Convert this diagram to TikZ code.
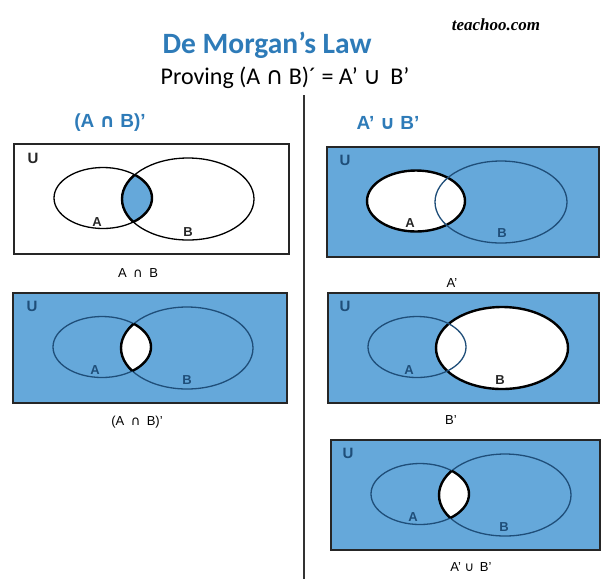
\documentclass[tikz,border=0pt]{standalone}
\usepackage{fontspec}
\setmainfont{Liberation Sans}
\newfontfamily\calib{Carlito}
\newfontfamily\symf{DejaVu Sans}
\newfontfamily\logof{Liberation Serif}
\usetikzlibrary{positioning}
\definecolor{vennblue}{HTML}{65A8DA}
\definecolor{titleblue}{HTML}{2E7BB8}
\definecolor{ringblue}{HTML}{1F4E79}

\begin{document}
\begin{tikzpicture}[x=1pt, y=-1pt,
    frame/.style={draw=black!85, line width=1.8pt},
    ring/.style={draw=ringblue, line width=1.3pt},
    thinring/.style={draw=black, line width=1.3pt},
    edge/.style={draw=black, line width=2.4pt},
    seta/.style={insert path={(89,54) ellipse [x radius=49pt, y radius=30.5pt]}},
    setb/.style={insert path={(174,55) ellipse [x radius=66pt, y radius=41pt]}},
    box/.style={insert path={(0,0) rectangle (#1,110)}},
    ulabel/.style={font=\bfseries\fontsize{15}{17}\selectfont, text=black!85},
    setlabel/.style={font=\bfseries\fontsize{13}{15}\selectfont, text=black!85},
    caption/.style={font=\fontsize{13}{15}\selectfont},
    head/.style={font=\bfseries\fontsize{19}{21}\selectfont, text=titleblue}]
  \useasboundingbox (0,0) rectangle (601,579);

  % titles
  \node[font=\logof\bfseries\itshape\fontsize{17}{19}\selectfont] (site) at (496,25) {teachoo.com};
  \node[font=\calib\bfseries\fontsize{29.5}{32}\selectfont, text=titleblue] (law) at (267,45) {De Morgan’s Law};
  \node[font=\calib\fontsize{24}{27}\selectfont] (prove) at (285,78) {Proving (A {\symf ∩} B)´ = A’ {\symf ∪}\, B’};
  \node[head] (lhead) at (110,123) {(A {\symf ∩} B)’};
  \node[head] (rhead) at (388,123) {A’ {\symf ∪} B’};
  \draw[black!80, line width=1.5pt] (304,95) -- (304,579);

  % A intersect B
  \begin{scope}[shift={(14,144)}]
    \fill[white] [box=275];
    \draw[thinring] [seta];
    \draw[thinring] [setb];
    \begin{scope}
      \clip[seta];
      \fill[vennblue] [setb];
      \draw[edge] [setb];
    \end{scope}
    \begin{scope}
      \clip[setb];
      \draw[edge] [seta];
    \end{scope}
    \draw[frame] [box=275];
    \node[ulabel] (u1) at (19,14) {U};
    \node[setlabel] (a1) at (83,78) {A};
    \node[setlabel] (b1) at (174,88) {B};
    \node[caption] (cap1) at (124,129) {A\enspace{\symf ∩}\enspace B};
  \end{scope}

  % (A intersect B)'
  \begin{scope}[shift={(13,293)}]
    \fill[vennblue] [box=274];
    \begin{scope}
      \clip[seta];
      \fill[white] [setb];
    \end{scope}
    \draw[ring] [seta];
    \draw[ring] [setb];
    \begin{scope}
      \clip[seta];
      \draw[edge] [setb];
    \end{scope}
    \begin{scope}
      \clip[setb];
      \draw[edge] [seta];
    \end{scope}
    \draw[frame] [box=274];
    \node[ulabel, text=ringblue] (u3) at (19,13) {U};
    \node[setlabel, text=ringblue] (a3) at (82,77) {A};
    \node[setlabel, text=ringblue] (b3) at (174,87) {B};
    \node[caption] (cap3) at (124,129) {(A\enspace{\symf ∩}\enspace B)’};
  \end{scope}

  % A'
  \begin{scope}[shift={(327,147)}]
    \fill[vennblue] [box=272];
    \fill[white] [seta];
    \draw[edge] [seta];
    \draw[ring] [setb];
    \draw[frame] [box=272];
    \node[ulabel, text=ringblue] (u2) at (18,13) {U};
    \node[setlabel] (a2) at (83,76) {A};
    \node[setlabel, text=ringblue] (b2) at (175,86) {B};
    \node[caption] (cap2) at (125,136) {A’};
  \end{scope}

  % B'
  \begin{scope}[shift={(328,293)}]
    \fill[vennblue] [box=271];
    \fill[white] [setb];
    \draw[edge] [setb];
    \draw[ring] [seta];
    \draw[frame] [box=271];
    \node[ulabel, text=ringblue] (u4) at (17,13) {U};
    \node[setlabel, text=ringblue] (a4) at (81,77) {A};
    \node[setlabel] (b4) at (172,87) {B};
    \node[caption] (cap4) at (123,127) {B’};
  \end{scope}

  % A' union B'
  \begin{scope}[shift={(331,440)}]
    \fill[vennblue] [box=269];
    \begin{scope}
      \clip[seta];
      \fill[white] [setb];
    \end{scope}
    \draw[ring] [seta];
    \draw[ring] [setb];
    \begin{scope}
      \clip[seta];
      \draw[edge] [setb];
    \end{scope}
    \begin{scope}
      \clip[setb];
      \draw[edge] [seta];
    \end{scope}
    \draw[frame] [box=269];
    \node[ulabel, text=ringblue] (u5) at (17,13) {U};
    \node[setlabel, text=ringblue] (a5) at (82,77) {A};
    \node[setlabel, text=ringblue] (b5) at (173,87) {B};
    \node[caption] (cap5) at (140,127) {A’ {\symf ∪}\, B’};
  \end{scope}
\end{tikzpicture}
\end{document}
